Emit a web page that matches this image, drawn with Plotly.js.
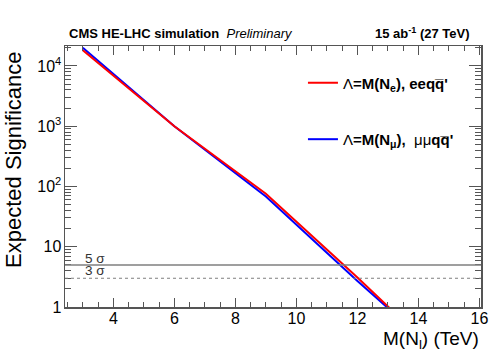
<!DOCTYPE html>
<html>
<head>
<meta charset="utf-8">
<script src="https://cdn.plot.ly/plotly-3.0.1.min.js"></script>
<style>html,body{margin:0;padding:0;background:#fff;}#chart{width:491px;height:352px;}</style>
</head>
<body>
<div id="chart"></div>
<script>
// ---- data ----
const massesTeV = [3, 6, 9, 12, 13, 14];
const sigEE = [18200, 1000, 76, 3.1, 1.02, 0.33];
const sigMuMu = [20000, 1000, 68, 2.7, 0.96, 0.34];
const thresholds = [5, 3];
const thresholdLabels = ['5 σ', '3 σ'];
const yTickVals = [1, 10, 100, 1000, 10000];
const yTickText = ['1', '10', '10<sup>2</sup>', '10<sup>3</sup>', '10<sup>4</sup>'];
const nameEE = 'Λ<b>=M(N<sub>e</sub>), eeq' + 'q\u0305' + '\'</b>';
const nameMuMu = 'Λ<b>=M(N<sub>μ</sub>),  </b>μμ<b>q' + 'q\u0305' + '\'</b>';

const FONT = 'Liberation Sans, Arial, Helvetica, sans-serif';

const yMinor = [];
for (let k = 0; k <= 4; k++) for (let d = 2; d <= 9; d++) yMinor.push(d * Math.pow(10, k));

const traces = [
  {x: massesTeV, y: sigMuMu, type: 'scatter', mode: 'lines', name: nameMuMu,
   line: {color: '#0000ff', width: 2}, legend: 'legend2'},
  {x: massesTeV, y: sigEE, type: 'scatter', mode: 'lines', name: nameEE,
   line: {color: '#ff0000', width: 2}, legend: 'legend'}
];

const shapes = [
  {type: 'line', xref: 'paper', x0: 0, x1: 1, yref: 'y', y0: thresholds[0], y1: thresholds[0],
   line: {color: '#7f7f7f', width: 1.5}},
  {type: 'line', xref: 'paper', x0: 0, x1: 1, yref: 'y', y0: thresholds[1], y1: thresholds[1],
   line: {color: '#7f7f7f', width: 1.2, dash: '3px,3px'}}
];

const annotations = [
  {xref: 'x', yref: 'y', x: 3.0, y: Math.log10(thresholds[0]), text: thresholdLabels[0], showarrow: false,
   xanchor: 'left', yanchor: 'bottom', yshift: -3, font: {family: FONT, size: 13.5, color: '#333'}},
  {xref: 'x', yref: 'y', x: 3.0, y: Math.log10(thresholds[1]), text: thresholdLabels[1], showarrow: false,
   xanchor: 'left', yanchor: 'bottom', yshift: -2, font: {family: FONT, size: 13.5, color: '#333'}},
  {xref: 'paper', yref: 'paper', x: 0.006, y: 1.049, xanchor: 'left', yanchor: 'middle', showarrow: false,
   text: '<b>CMS HE-LHC simulation</b>  <i>Preliminary</i>', font: {family: FONT, size: 13, color: '#000'}},
  {xref: 'paper', yref: 'paper', x: 0.978, y: 1.049, xanchor: 'right', yanchor: 'middle', showarrow: false,
   text: '<b>15 ab<sup>-1</sup> (27 TeV)</b>', font: {family: FONT, size: 13, color: '#000'}},
  {xref: 'paper', yref: 'paper', x: -0.124, y: 0.565, xanchor: 'center', yanchor: 'middle', showarrow: false,
   textangle: -90, text: 'Expected Significance', font: {family: FONT, size: 22, color: '#000'}},
  {xref: 'paper', yref: 'paper', x: 1.0, y: -0.125, xanchor: 'right', yanchor: 'middle', showarrow: false,
   text: 'M(N<sub>l</sub>) (TeV)', font: {family: FONT, size: 19, color: '#000'}}
];

const layout = {
  width: 491, height: 352,
  margin: {l: 65, r: 10, t: 46, b: 45},
  paper_bgcolor: '#fff', plot_bgcolor: '#fff',
  showlegend: true,
  font: {family: FONT, color: '#000'},
  xaxis: {
    range: [2.416, 16.05], tick0: 0, dtick: 2, ticks: 'inside', ticklen: 9, tickcolor: '#555',
    showline: true, linecolor: '#555', linewidth: 1.5, mirror: 'allticks', showgrid: false, zeroline: false,
    tickfont: {family: FONT, size: 16, color: '#000'}, ticklabelstandoff: -4,
    minor: {dtick: 0.5, ticks: 'inside', ticklen: 5, tickcolor: '#555', showgrid: false}
  },
  yaxis: {
    type: 'log', range: [0, 4.331], tickvals: yTickVals, ticktext: yTickText,
    ticks: 'inside', ticklen: 12, tickcolor: '#555',
    showline: true, linecolor: '#555', linewidth: 1.5, mirror: 'allticks', showgrid: false, zeroline: false,
    tickfont: {family: FONT, size: 16, color: '#000'}, ticklabelstandoff: -1,
    minor: {tickvals: yMinor, ticks: 'inside', ticklen: 6, tickcolor: '#555', showgrid: false}
  },
  legend: {x: 0.572, y: 0.8586, xanchor: 'left', yanchor: 'middle', bgcolor: 'rgba(0,0,0,0)',
           font: {family: FONT, size: 15, color: '#000'}},
  legend2: {x: 0.572, y: 0.642, xanchor: 'left', yanchor: 'middle', bgcolor: 'rgba(0,0,0,0)',
           font: {family: FONT, size: 15, color: '#000'}},
  shapes: shapes,
  annotations: annotations
};

Plotly.newPlot('chart', traces, layout, {displayModeBar: false, staticPlot: true});
</script>
</body>
</html>
